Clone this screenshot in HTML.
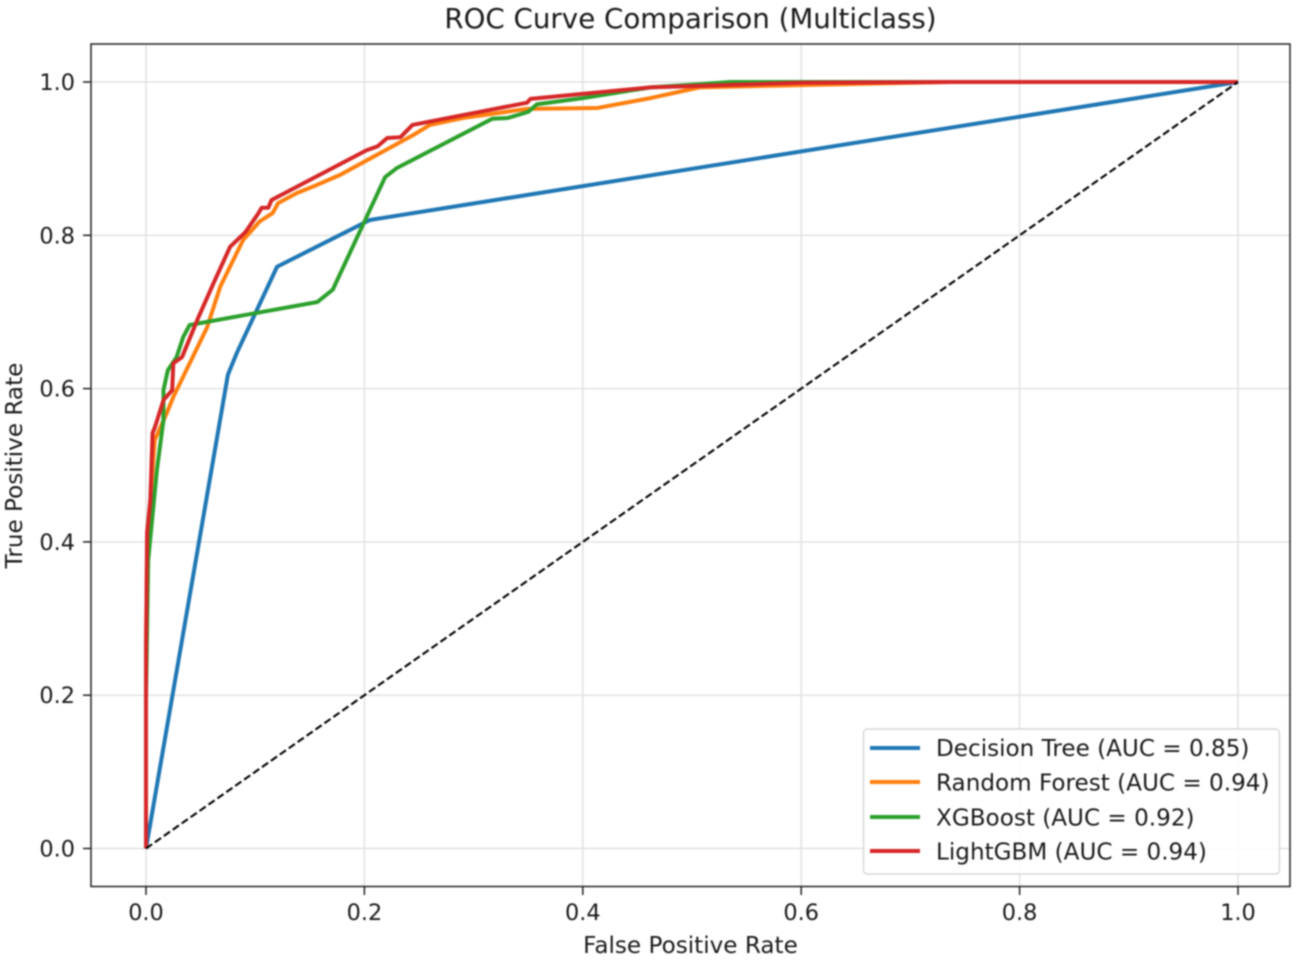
<!DOCTYPE html>
<html lang="en">
<head>
<meta charset="utf-8">
<title>ROC Curve Comparison (Multiclass)</title>
<style>
html,body{margin:0;padding:0;background:#fff;}
#chart{display:block;width:1301px;height:967px;filter:blur(0.7px);}
text{font-family:"DejaVu Sans","Liberation Sans",sans-serif;fill:#1a1a1a;}
</style>
</head>
<body>
<svg id="chart" xmlns="http://www.w3.org/2000/svg" width="1301" height="967" viewBox="0 0 1301 967">
  <rect x="0" y="0" width="1301" height="967" fill="#fff"/>
  <g id="grid"></g>
  <g id="series"></g>
  <g id="ticks"></g>
  <rect x="91" y="44" width="1199" height="842.5" fill="none" stroke="#222" stroke-width="1.5"/>
  <text x="690.5" y="28" text-anchor="middle" font-size="27.7">ROC Curve Comparison (Multiclass)</text>
  <text x="690.5" y="953" text-anchor="middle" font-size="23.1">False Positive Rate</text>
  <text x="22" y="465.5" text-anchor="middle" font-size="23.1" transform="rotate(-90 22 465.5)">True Positive Rate</text>
  <g>
    <rect x="863.5" y="729" width="416" height="145" rx="4" fill="#fff" fill-opacity="0.85" stroke="#d6d6d6" stroke-width="1.4"/>
    <line x1="870" x2="920" y1="748" y2="748" stroke="#1f77b4" stroke-width="4"/>
    <text x="936" y="756" font-size="23.1">Decision Tree (AUC = 0.85)</text>
    <line x1="870" x2="920" y1="782" y2="782" stroke="#ff7f0e" stroke-width="4"/>
    <text x="936" y="790.5" font-size="23.1">Random Forest (AUC = 0.94)</text>
    <line x1="870" x2="920" y1="817" y2="817" stroke="#2ca02c" stroke-width="4"/>
    <text x="936" y="825.5" font-size="23.1">XGBoost (AUC = 0.92)</text>
    <line x1="870" x2="920" y1="851" y2="851" stroke="#d62728" stroke-width="4"/>
    <text x="936" y="859.5" font-size="23.1">LightGBM (AUC = 0.94)</text>
  </g>
</svg>
<script>
const tickValues = [0, 0.2, 0.4, 0.6, 0.8, 1.0];
const tickLabels = ['0.0', '0.2', '0.4', '0.6', '0.8', '1.0'];

const chanceFpr = [0, 1];
const chanceTpr = [0, 1];

const treeFpr = [0, 0.075, 0.083, 0.12, 0.205, 1];
const treeTpr = [0, 0.618, 0.646, 0.759, 0.82, 1];

const forestFpr = [0, 0, 0.001, 0.004, 0.008, 0.019, 0.025, 0.056, 0.068, 0.08, 0.089, 0.104, 0.116, 0.121, 0.138, 0.157, 0.178, 0.245, 0.26, 0.29, 0.349, 0.413, 0.462, 0.507, 0.6, 0.736, 1];
const forestTpr = [0, 0.259, 0.376, 0.455, 0.533, 0.568, 0.589, 0.68, 0.733, 0.768, 0.794, 0.818, 0.829, 0.842, 0.855, 0.866, 0.879, 0.931, 0.944, 0.953, 0.965, 0.966, 0.979, 0.993, 0.996, 1, 1];

const xgbFpr = [0, 0, 0.002, 0.01, 0.016, 0.016, 0.02, 0.028, 0.034, 0.04, 0.157, 0.171, 0.219, 0.23, 0.317, 0.331, 0.35, 0.358, 0.4, 0.462, 0.507, 0.535, 1];
const xgbTpr = [0, 0.196, 0.376, 0.494, 0.559, 0.598, 0.624, 0.641, 0.667, 0.683, 0.713, 0.729, 0.876, 0.888, 0.952, 0.953, 0.961, 0.971, 0.979, 0.993, 0.997, 1, 1];

const lgbmFpr = [0, 0, 0.001, 0.004, 0.006, 0.008, 0.016, 0.024, 0.025, 0.033, 0.048, 0.062, 0.077, 0.091, 0.103, 0.106, 0.112, 0.115, 0.202, 0.212, 0.221, 0.233, 0.244, 0.349, 0.352, 0.462, 0.6, 0.736, 1];
const lgbmTpr = [0, 0.259, 0.412, 0.455, 0.542, 0.549, 0.585, 0.598, 0.633, 0.641, 0.693, 0.738, 0.785, 0.804, 0.829, 0.836, 0.836, 0.846, 0.911, 0.916, 0.927, 0.928, 0.944, 0.973, 0.978, 0.993, 0.999, 1, 1];

const NS = 'http://www.w3.org/2000/svg';
function xScale(v) { return 146 + v * 1092; }
function yScale(v) { return 848.5 - v * 766.5; }
function make(tag, attrs, parent) {
  const el = document.createElementNS(NS, tag);
  for (const k in attrs) el.setAttribute(k, attrs[k]);
  parent.appendChild(el);
  return el;
}

const gridLayer = document.getElementById('grid');
const tickLayer = document.getElementById('ticks');
tickValues.forEach(function (v, i) {
  const gx = make('line', { x1: xScale(v), x2: xScale(v), y1: 44, y2: 886.5, stroke: '#e0e0e0', 'stroke-width': 1.4 }, gridLayer);
  
  
  const gy = make('line', { x1: 91, x2: 1290, y1: yScale(v), y2: yScale(v), stroke: '#e0e0e0', 'stroke-width': 1.4 }, gridLayer);
  
  

  const tx = make('line', { x1: xScale(v), x2: xScale(v), y1: 886.5, y2: 895, stroke: '#222', 'stroke-width': 1.5 }, tickLayer);
  
  
  const ty = make('line', { x1: 83, x2: 91, y1: yScale(v), y2: yScale(v), stroke: '#222', 'stroke-width': 1.5 }, tickLayer);
  
  

  const lx = make('text', { x: xScale(v), y: 920, 'text-anchor': 'middle', 'font-size': 22.4 }, tickLayer);
  lx.textContent = tickLabels[i];
  
  
  const ly = make('text', { x: 75, y: yScale(v) + 8, 'text-anchor': 'end', 'font-size': 22.4 }, tickLayer);
  ly.textContent = tickLabels[i];
  
  
});

function pointsFor(xs, ys) {
  return xs.map(function (x, i) { return xScale(x) + ',' + yScale(ys[i]); }).join(' ');
}
const seriesLayer = document.getElementById('series');

const treeLine = make('polyline', { points: pointsFor(treeFpr, treeTpr), fill: 'none', stroke: '#1f77b4', 'stroke-width': 4, 'stroke-linejoin': 'round' }, seriesLayer);



const forestLine = make('polyline', { points: pointsFor(forestFpr, forestTpr), fill: 'none', stroke: '#ff7f0e', 'stroke-width': 4, 'stroke-linejoin': 'round' }, seriesLayer);



const xgbLine = make('polyline', { points: pointsFor(xgbFpr, xgbTpr), fill: 'none', stroke: '#2ca02c', 'stroke-width': 4, 'stroke-linejoin': 'round' }, seriesLayer);



const lgbmLine = make('polyline', { points: pointsFor(lgbmFpr, lgbmTpr), fill: 'none', stroke: '#d62728', 'stroke-width': 4, 'stroke-linejoin': 'round' }, seriesLayer);



const chanceLine = make('polyline', { points: pointsFor(chanceFpr, chanceTpr), fill: 'none', stroke: '#000', 'stroke-width': 2.1, 'stroke-dasharray': '7.5 3.4' }, seriesLayer);


</script>
</body>
</html>
